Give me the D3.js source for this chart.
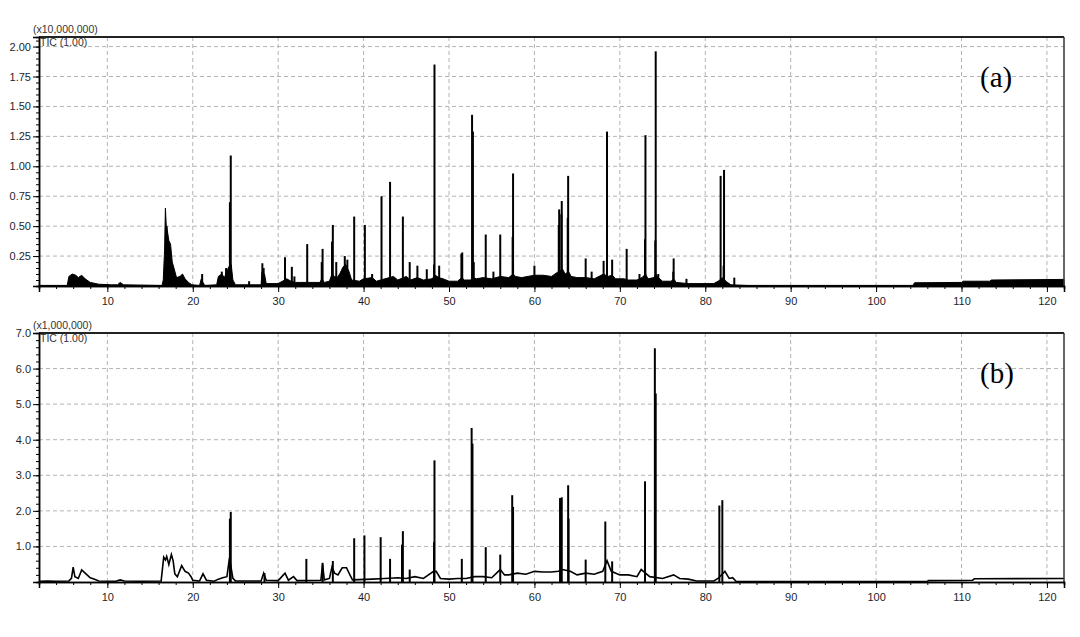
<!DOCTYPE html>
<html><head><meta charset="utf-8">
<script src="https://cdn.jsdelivr.net/npm/d3@7"></script>
<style>
html,body{margin:0;padding:0;background:#fff;}
</style></head>
<body><svg id="c" width="1080" height="637" style="font-family:Arial,'Liberation Sans',sans-serif"></svg>
<script>
// ---------- DATA ----------
const xTicks = [10,20,30,40,50,60,70,80,90,100,110,120];
const aYTicks = [0.25,0.50,0.75,1.00,1.25,1.50,1.75,2.00];
const bYTicks = [1,2,3,4,5,6,7];

// Panel (a): background envelope (x10,000,000)
const aBgTime = [2,5.3,5.5,5.9,6.3,6.6,7.0,7.4,8.0,9.0,10.5,11.2,11.5,11.9,16.4,16.55,16.7,16.8,16.9,17.05,17.2,17.4,17.6,17.8,18.1,18.5,18.8,19.1,19.5,19.9,20.8,21.0,21.2,21.4,22.8,23.0,23.4,23.7,24.0,24.2,24.5,24.7,25.0,28.0,28.1,28.4,28.6,30.0,30.5,31.0,31.5,32.0,34.9,35.1,35.4,36.0,36.3,36.6,36.9,37.2,37.6,37.9,38.3,38.6,39.5,40.0,41.0,41.5,42.5,43.5,44.0,45.0,45.5,46.3,47.0,48.0,48.4,48.8,49.3,50.0,51.0,51.5,51.8,52.5,52.8,53.2,54.0,55.0,56.0,57.0,57.5,57.8,58.5,60.0,61.0,62.0,62.8,63.3,63.6,64.0,64.3,65.0,66.0,67.0,68.1,68.6,69.1,69.5,70.5,71.0,72.0,72.6,73.0,73.3,74.0,74.2,74.5,75.0,76.0,76.3,76.6,78.0,81.0,81.5,82.1,82.4,83.0,85.0,104.3,104.5,110.0,110.2,113.3,113.5,122];
const aBgVal  = [0.005,0.005,0.08,0.10,0.09,0.07,0.09,0.06,0.03,0.015,0.01,0.01,0.03,0.01,0.005,0.05,0.3,0.65,0.5,0.45,0.38,0.35,0.2,0.15,0.07,0.08,0.10,0.06,0.03,0.01,0.005,0.06,0.03,0.005,0.01,0.08,0.10,0.07,0.12,0.16,0.18,0.05,0.01,0.01,0.12,0.10,0.02,0.02,0.04,0.06,0.04,0.03,0.03,0.06,0.03,0.04,0.10,0.08,0.07,0.10,0.16,0.18,0.12,0.05,0.04,0.06,0.07,0.04,0.06,0.08,0.05,0.08,0.05,0.07,0.05,0.06,0.09,0.07,0.06,0.04,0.04,0.07,0.05,0.05,0.07,0.06,0.07,0.06,0.08,0.07,0.10,0.08,0.07,0.09,0.09,0.08,0.12,0.14,0.10,0.12,0.08,0.07,0.07,0.06,0.10,0.08,0.09,0.06,0.06,0.05,0.05,0.07,0.10,0.06,0.07,0.10,0.07,0.04,0.04,0.06,0.03,0.02,0.02,0.04,0.07,0.04,0.01,0.005,0.005,0.027,0.03,0.04,0.04,0.05,0.055];
// Panel (a): sharp peaks
const aPeakTime = [16.95,21.1,23.4,23.9,24.35,24.45,26.6,28.15,28.3,30.8,31.6,31.9,33.4,35.1,35.2,36.3,36.4,36.8,37.8,38.1,38.9,40.15,41.0,42.1,43.1,44.6,45.4,46.3,47.4,48.25,48.3,48.85,51.45,51.55,52.7,52.8,52.9,54.3,55.2,56.0,57.45,57.5,60.0,62.85,62.9,63.15,63.2,63.9,63.95,66.0,66.7,68.1,68.5,69.1,70.8,72.3,72.95,73.0,74.15,74.2,74.5,76.25,76.3,77.8,82.15,81.8,82.2,83.4];
const aPeakVal  = [0.50,0.10,0.12,0.15,0.70,1.09,0.04,0.19,0.15,0.24,0.16,0.08,0.35,0.20,0.31,0.37,0.51,0.20,0.25,0.22,0.58,0.51,0.10,0.75,0.87,0.58,0.20,0.17,0.14,0.18,1.85,0.17,0.27,0.28,1.43,1.29,0.20,0.43,0.12,0.43,0.41,0.94,0.17,0.51,0.64,0.60,0.71,0.57,0.92,0.23,0.12,0.21,1.29,0.22,0.31,0.10,0.39,1.26,0.38,1.96,0.10,0.12,0.23,0.06,0.17,0.92,0.97,0.07];

// Panel (b): background trace (x1,000,000)
const bBgTime = [2,3.0,4.0,5.5,5.8,6.0,6.2,6.6,7.0,7.4,8.0,8.5,9.0,11.0,11.5,12.0,14.0,16.3,16.6,16.8,16.95,17.2,17.5,17.7,17.9,18.2,18.7,19.1,19.5,19.8,20.0,20.8,21.2,21.6,22.5,23.0,23.5,24.0,24.3,24.7,25.0,28.0,28.3,28.6,30.0,30.8,31.2,31.8,32.2,35.0,35.2,35.4,36.0,36.3,36.6,37.0,37.5,38.0,38.4,38.7,41.0,42.5,44.0,45.0,46.0,47.0,48.2,48.5,49.0,50.0,51.0,52.0,53.0,54.0,55.0,56.0,56.5,57.0,58.0,59.0,60.0,61.0,62.0,62.8,63.3,64.2,65.0,66.0,67.0,68.0,68.5,69.0,70.0,71.0,72.0,72.5,73.5,75.0,76.3,77.0,78.0,79.0,81.0,81.5,82.3,82.8,83.2,83.6,90.0,106.0,106.1,111.3,111.5,122];
const bBgVal  = [0.02,0.03,0.02,0.03,0.10,0.42,0.15,0.10,0.34,0.25,0.12,0.08,0.03,0.02,0.06,0.03,0.02,0.03,0.70,0.62,0.72,0.49,0.77,0.60,0.23,0.15,0.46,0.30,0.25,0.15,0.05,0.03,0.23,0.05,0.02,0.08,0.12,0.15,0.68,0.10,0.03,0.03,0.25,0.05,0.04,0.25,0.05,0.15,0.04,0.05,0.50,0.06,0.10,0.42,0.25,0.20,0.40,0.40,0.20,0.06,0.08,0.10,0.12,0.10,0.15,0.10,0.30,0.30,0.10,0.08,0.10,0.10,0.15,0.15,0.12,0.35,0.20,0.20,0.25,0.22,0.30,0.28,0.28,0.30,0.35,0.30,0.20,0.25,0.22,0.30,0.60,0.30,0.20,0.20,0.15,0.35,0.15,0.10,0.20,0.10,0.08,0.03,0.03,0.10,0.30,0.10,0.12,0.02,0.01,0.01,0.04,0.05,0.09,0.10];
// Panel (b): sharp peaks
const bPeakTime = [24.35,24.45,28.4,33.3,35.2,36.4,38.9,40.1,42.0,43.1,44.5,44.6,45.4,48.25,48.3,51.5,52.65,52.75,54.3,56.0,57.4,57.5,63.0,63.2,63.95,64.0,66.0,68.3,69.1,72.95,74.1,74.2,81.65,82.0];
const bPeakVal  = [1.78,1.97,0.25,0.65,0.54,0.59,1.23,1.31,1.26,0.65,1.05,1.43,0.35,1.12,3.42,0.65,4.33,3.89,0.98,0.77,2.44,2.11,2.36,2.38,2.72,1.78,0.63,1.70,0.58,2.83,6.57,5.30,2.15,2.30];

// ---------- DRAW ----------
const svg = d3.select("#c");
const L = 39, R = 1064;
const x = d3.scaleLinear().domain([2,122]).range([L,R]);

function panel(cfg){
  const y = d3.scaleLinear().domain(cfg.yDomain).range([cfg.bottom, cfg.top]);
  const g = svg.append("g");
  // grid
  g.selectAll(".gx").data(xTicks).enter().append("line")
    .attr("x1",d=>x(d)).attr("x2",d=>x(d)).attr("y1",cfg.top).attr("y2",cfg.bottom)
    .attr("stroke","#b4b4b4").attr("stroke-dasharray","4,3").attr("stroke-width",1);
  g.selectAll(".gy").data(cfg.yTicks.filter(v=>y(v)>cfg.top+2)).enter().append("line")
    .attr("x1",L).attr("x2",R).attr("y1",d=>y(d)).attr("y2",d=>y(d))
    .attr("stroke","#b4b4b4").attr("stroke-dasharray","4,3").attr("stroke-width",1);

  const bg = d3.range(cfg.bgT.length).map(i=>[cfg.bgT[i], cfg.bgV[i]]);
  if(cfg.fill){
    g.append("path").datum(bg)
      .attr("d", d3.area().x(d=>x(d[0])).y0(y(0)).y1(d=>y(d[1])))
      .attr("fill","#000").attr("stroke","#000").attr("stroke-width",1);
  } else {
    g.append("path").datum(bg)
      .attr("d", d3.line().x(d=>x(d[0])).y(d=>y(d[1])))
      .attr("fill","none").attr("stroke","#000").attr("stroke-width",1.6);
  }
  const pk = d3.range(cfg.pT.length).map(i=>[cfg.pT[i], cfg.pV[i]]);
  g.selectAll(".pk").data(pk).enter().append("line")
    .attr("x1",d=>x(d[0])).attr("x2",d=>x(d[0]))
    .attr("y1",y(0)).attr("y2",d=>y(d[1]))
    .attr("stroke","#000").attr("stroke-width",2);

  // frame
  g.append("line").attr("x1",L).attr("x2",R).attr("y1",cfg.top).attr("y2",cfg.top)
    .attr("stroke","#222").attr("stroke-width",2);
  g.append("line").attr("x1",R).attr("x2",R).attr("y1",cfg.top).attr("y2",cfg.bottom)
    .attr("stroke","#333").attr("stroke-width",1.5);

  // axes
  const yMinor = d3.range(cfg.yDomain[0], cfg.yDomain[1]+1e-9, cfg.yMinorStep);
  const ax = g.append("g").attr("transform",`translate(${L},0)`);
  ax.call(d3.axisLeft(y).tickValues(yMinor).tickSize(3).tickFormat(""));
  ax.append("g").call(d3.axisLeft(y).tickValues(cfg.yTicks).tickSize(6).tickFormat(d3.format(cfg.fmt)));
  ax.selectAll("path.domain").attr("stroke","#000").attr("stroke-width",1.5);
  ax.selectAll("text").style("font-family","Arial,'Liberation Sans',sans-serif").style("font-size","11px").attr("fill","#1e1e2a").attr("dx","1px");

  const bx = g.append("g").attr("transform",`translate(0,${cfg.bottom})`);
  bx.call(d3.axisBottom(x).tickValues(d3.range(4,122,2)).tickSize(3).tickFormat(""));
  bx.append("g").call(d3.axisBottom(x).tickValues(xTicks).tickSize(6).tickFormat(d3.format("d")));
  bx.selectAll("path.domain").attr("stroke","#000").attr("stroke-width",1.5);
  bx.selectAll("line").attr("stroke","#000");
  bx.selectAll("text").style("font-family","Arial,'Liberation Sans',sans-serif").style("font-size","11px").attr("fill","#1e1e2a").attr("dy","0.9em");

  g.append("text").attr("x",33).attr("y",cfg.top-4).style("font-family","Arial,'Liberation Sans',sans-serif").style("font-size","10.5px").attr("fill","#333")
    .text(cfg.scaleLabel);
  g.append("text").attr("x",40).attr("y",cfg.top+9).style("font-family","Arial,'Liberation Sans',sans-serif").style("font-size","10.5px").attr("fill","#333")
    .text("TIC (1.00)");
  g.append("text").attr("x",980).attr("y",cfg.top+50)
    .style("font-family","'Liberation Serif','Times New Roman',serif").style("font-size","29px")
    .attr("fill","#000").text(cfg.tag);
}

panel({top:37, bottom:286, yDomain:[0,2.08], yTicks:aYTicks, yMinorStep:0.05, fmt:".2f",
  bgT:aBgTime, bgV:aBgVal, pT:aPeakTime, pV:aPeakVal, fill:true,
  scaleLabel:"(x10,000,000)", tag:"(a)"});
panel({top:333, bottom:582, yDomain:[0,7], yTicks:bYTicks, yMinorStep:0.2, fmt:".1f",
  bgT:bBgTime, bgV:bBgVal, pT:bPeakTime, pV:bPeakVal, fill:false,
  scaleLabel:"(x1,000,000)", tag:"(b)"});
</script></body></html>
